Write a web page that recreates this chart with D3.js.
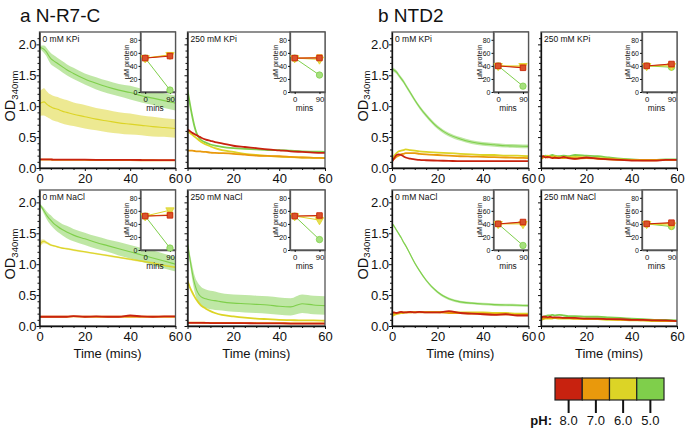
<!DOCTYPE html>
<html>
<head>
<meta charset="utf-8">
<script src="https://d3js.org/d3.v7.min.js"></script>
<style>
  body { margin: 0; background: #fff; }
  svg { font-family: "Liberation Sans", Arial, Helvetica, sans-serif; }
</style>
</head>
<body>
<svg id="chart" width="685" height="430"></svg>
<script>
// time points (mins) shared by every OD trace
var times = [0, 1, 2, 3, 4, 5, 6, 8, 10, 12, 15, 20, 25, 30, 35, 40, 45, 50, 55, 60];
var phLabels = ["8.0", "7.0", "6.0", "5.0"];
var phColors = ["#c8220f", "#e9990c", "#dcd426", "#7fcf4b"];
var proteinTimes = [0, 90];

// a N-R7-C, 0 mM KPi
var aKpi0Red    = [0.14,0.14,0.139,0.139,0.138,0.138,0.137,0.137,0.136,0.136,0.135,0.134,0.133,0.132,0.131,0.13,0.129,0.128,0.128,0.127];
var aKpi0Orange = [0.135,0.135,0.135,0.134,0.134,0.134,0.133,0.133,0.132,0.132,0.131,0.13,0.129,0.128,0.127,0.126,0.125,0.125,0.124,0.124];
var aKpi0Yellow = [1.04,1.06,1.07,1.04,1.01,0.99,0.97,0.95,0.92,0.90,0.87,0.83,0.79,0.76,0.73,0.71,0.69,0.67,0.655,0.64];
var aKpi0YellowSd = [0.2,0.21,0.22,0.21,0.2,0.2,0.2,0.2,0.2,0.2,0.19,0.19,0.18,0.18,0.17,0.17,0.16,0.16,0.15,0.15];
var aKpi0Green  = [1.95,1.94,1.92,1.88,1.82,1.77,1.74,1.69,1.64,1.59,1.53,1.44,1.37,1.31,1.26,1.22,1.17,1.13,1.09,1.05];
var aKpi0GreenSd = [0.02,0.04,0.06,0.07,0.08,0.09,0.09,0.09,0.09,0.09,0.09,0.09,0.1,0.1,0.1,0.11,0.11,0.11,0.12,0.12];
var aKpi0Protein = [[52, 55], [52, 56], [52, 57], [52, 3]];

// a N-R7-C, 250 mM KPi
var aKpi250Red    = [0.62,0.60,0.57,0.55,0.53,0.51,0.49,0.46,0.44,0.42,0.40,0.36,0.34,0.32,0.30,0.285,0.27,0.26,0.25,0.245];
var aKpi250Orange = [0.28,0.28,0.28,0.275,0.27,0.27,0.265,0.26,0.25,0.245,0.24,0.23,0.215,0.2,0.195,0.19,0.18,0.17,0.165,0.16];
var aKpi250Yellow = [0.60,0.57,0.54,0.51,0.48,0.45,0.42,0.38,0.35,0.32,0.29,0.26,0.23,0.21,0.195,0.185,0.175,0.17,0.165,0.16];
var aKpi250Green  = [1.26,1.05,0.85,0.68,0.56,0.49,0.45,0.41,0.38,0.36,0.34,0.32,0.31,0.30,0.29,0.29,0.28,0.27,0.265,0.26];
var aKpi250Protein = [[52, 52], [52, 53], [52, 50], [52, 26]];

// a N-R7-C, 0 mM NaCl
var aNacl0Red    = [0.15,0.15,0.15,0.15,0.15,0.15,0.15,0.15,0.15,0.15,0.16,0.15,0.155,0.15,0.15,0.17,0.155,0.15,0.155,0.155];
var aNacl0Orange = [0.15,0.15,0.15,0.15,0.15,0.15,0.15,0.15,0.15,0.15,0.155,0.15,0.15,0.15,0.15,0.15,0.15,0.15,0.15,0.15];
var aNacl0Yellow = [1.30,1.36,1.37,1.35,1.33,1.31,1.30,1.28,1.26,1.25,1.23,1.20,1.17,1.14,1.11,1.08,1.05,1.02,0.98,0.95];
var aNacl0YellowSd = [0.06,0.04,0.03,0.02,0.02,0.015,0.015,0.015,0.015,0.015,0.015,0.015,0.015,0.015,0.015,0.015,0.015,0.015,0.015,0.015];
var aNacl0Green  = [1.96,1.92,1.86,1.80,1.75,1.71,1.67,1.61,1.56,1.52,1.47,1.41,1.35,1.30,1.25,1.20,1.15,1.10,1.05,1.00];
var aNacl0GreenSd = [0.02,0.03,0.05,0.06,0.07,0.08,0.08,0.09,0.09,0.1,0.1,0.1,0.1,0.1,0.11,0.11,0.11,0.12,0.12,0.12];
var aNacl0Protein = [[52, 53], [52, 54], [52, 61], [52, 3]];

// a N-R7-C, 250 mM NaCl
var aNacl250Red    = [0.05,0.05,0.05,0.05,0.05,0.05,0.05,0.05,0.048,0.048,0.047,0.046,0.045,0.044,0.043,0.042,0.04,0.04,0.039,0.038];
var aNacl250Orange = [0.055,0.055,0.055,0.054,0.054,0.053,0.053,0.052,0.051,0.05,0.05,0.049,0.048,0.047,0.046,0.045,0.044,0.043,0.042,0.041];
var aNacl250Yellow = [0.73,0.63,0.55,0.48,0.42,0.37,0.33,0.28,0.24,0.21,0.18,0.155,0.135,0.12,0.11,0.10,0.095,0.09,0.09,0.085];
var aNacl250Green  = [1.33,1.10,0.88,0.70,0.58,0.51,0.47,0.44,0.42,0.41,0.39,0.37,0.36,0.35,0.34,0.32,0.31,0.36,0.34,0.33];
var aNacl250GreenSd = [0.05,0.08,0.11,0.13,0.15,0.16,0.16,0.15,0.15,0.15,0.14,0.14,0.14,0.14,0.14,0.14,0.14,0.15,0.15,0.15];
var aNacl250Protein = [[52, 53], [52, 52], [52, 46], [52, 16]];

// b NTD2, 0 mM KPi
var bKpi0Red    = [0.10,0.16,0.21,0.22,0.21,0.19,0.17,0.15,0.14,0.13,0.125,0.12,0.115,0.11,0.11,0.11,0.11,0.11,0.11,0.11];
var bKpi0Orange = [0.12,0.15,0.18,0.20,0.22,0.23,0.24,0.24,0.24,0.23,0.22,0.21,0.20,0.19,0.185,0.18,0.175,0.17,0.165,0.16];
var bKpi0Yellow = [0.15,0.20,0.24,0.27,0.28,0.29,0.30,0.29,0.28,0.27,0.26,0.25,0.24,0.23,0.22,0.21,0.21,0.20,0.20,0.19];
var bKpi0Green  = [1.60,1.58,1.55,1.50,1.45,1.40,1.34,1.22,1.10,0.99,0.85,0.66,0.54,0.47,0.42,0.39,0.375,0.36,0.355,0.35];
var bKpi0Protein = [[40, 37], [40, 38], [40, 40], [40, 9]];

// b NTD2, 250 mM KPi
var bKpi250Red    = [0.18,0.19,0.17,0.18,0.17,0.16,0.17,0.16,0.18,0.16,0.15,0.17,0.15,0.14,0.13,0.12,0.12,0.12,0.13,0.13];
var bKpi250Orange = [0.14,0.17,0.18,0.17,0.18,0.17,0.16,0.17,0.16,0.17,0.15,0.16,0.15,0.14,0.13,0.13,0.125,0.125,0.13,0.13];
var bKpi250Yellow = [0.15,0.19,0.18,0.2,0.19,0.18,0.19,0.17,0.18,0.17,0.18,0.17,0.16,0.15,0.14,0.13,0.13,0.13,0.13,0.13];
var bKpi250Green  = [0.16,0.18,0.20,0.19,0.20,0.21,0.20,0.19,0.20,0.19,0.21,0.20,0.19,0.17,0.15,0.14,0.13,0.13,0.14,0.14];
var bKpi250Protein = [[40, 43], [40, 42], [40, 40], [40, 38]];

// b NTD2, 0 mM NaCl
var bNacl0Red    = [0.22,0.22,0.21,0.22,0.23,0.22,0.22,0.23,0.22,0.23,0.22,0.22,0.24,0.21,0.2,0.19,0.18,0.19,0.17,0.17];
var bNacl0Orange = [0.2,0.2,0.21,0.21,0.22,0.22,0.22,0.22,0.22,0.22,0.22,0.22,0.21,0.21,0.2,0.2,0.19,0.19,0.18,0.18];
var bNacl0Yellow = [0.16,0.18,0.19,0.2,0.21,0.21,0.22,0.22,0.23,0.23,0.23,0.23,0.23,0.22,0.22,0.22,0.21,0.21,0.2,0.2];
var bNacl0Green  = [1.66,1.61,1.55,1.49,1.43,1.36,1.30,1.16,1.02,0.90,0.74,0.55,0.44,0.39,0.37,0.355,0.345,0.34,0.335,0.33];
var bNacl0Protein = [[40, 43], [40, 42], [40, 40], [40, 7]];

// b NTD2, 250 mM NaCl
var bNacl250Red    = [0.14,0.15,0.15,0.14,0.15,0.14,0.14,0.14,0.13,0.13,0.13,0.12,0.12,0.11,0.11,0.1,0.1,0.09,0.09,0.08];
var bNacl250Orange = [0.12,0.12,0.13,0.13,0.13,0.13,0.13,0.13,0.13,0.13,0.12,0.12,0.11,0.11,0.1,0.1,0.09,0.09,0.08,0.08];
var bNacl250Yellow = [0.10,0.11,0.12,0.12,0.12,0.12,0.13,0.12,0.12,0.12,0.12,0.11,0.11,0.1,0.1,0.09,0.09,0.08,0.08,0.08];
var bNacl250Green  = [0.14,0.15,0.16,0.17,0.17,0.18,0.17,0.18,0.17,0.16,0.16,0.15,0.15,0.14,0.13,0.12,0.11,0.1,0.1,0.09];
var bNacl250Protein = [[40, 42], [40, 41], [40, 38], [40, 36]];

var svg = d3.select("#chart");
var ink = "#111";

// panel boxes (pixels) - layout only
var panels = [
  { x: 39.5, y: 32, w: 136, label: "0 mM KPi", yLabels: true,
    series: [aKpi0Red, aKpi0Orange, aKpi0Yellow, aKpi0Green],
    sd: [null, null, aKpi0YellowSd, aKpi0GreenSd], protein: aKpi0Protein },
  { x: 187.5, y: 32, w: 137.5, label: "250 mM KPi", yLabels: false,
    series: [aKpi250Red, aKpi250Orange, aKpi250Yellow, aKpi250Green],
    sd: [null, null, null, null], protein: aKpi250Protein },
  { x: 39.5, y: 190, w: 136, label: "0 mM NaCl", yLabels: true, time: true,
    series: [aNacl0Red, aNacl0Orange, aNacl0Yellow, aNacl0Green],
    sd: [null, null, aNacl0YellowSd, aNacl0GreenSd], protein: aNacl0Protein },
  { x: 187.5, y: 190, w: 137.5, label: "250 mM NaCl", yLabels: false, time: true,
    series: [aNacl250Red, aNacl250Orange, aNacl250Yellow, aNacl250Green],
    sd: [null, null, null, aNacl250GreenSd], protein: aNacl250Protein },
  { x: 392, y: 32, w: 136.5, label: "0 mM KPi", yLabels: true,
    series: [bKpi0Red, bKpi0Orange, bKpi0Yellow, bKpi0Green],
    sd: [null, null, null, 0.03], protein: bKpi0Protein },
  { x: 541, y: 32, w: 136, label: "250 mM KPi", yLabels: false,
    series: [bKpi250Red, bKpi250Orange, bKpi250Yellow, bKpi250Green],
    sd: [null, null, null, null], protein: bKpi250Protein },
  { x: 392, y: 190, w: 136.5, label: "0 mM NaCl", yLabels: true, time: true,
    series: [bNacl0Red, bNacl0Orange, bNacl0Yellow, bNacl0Green],
    sd: [null, null, null, 0.02], protein: bNacl0Protein },
  { x: 541, y: 190, w: 136, label: "250 mM NaCl", yLabels: false, time: true,
    series: [bNacl250Red, bNacl250Orange, bNacl250Yellow, bNacl250Green],
    sd: [null, null, null, null], protein: bNacl250Protein }
];
var panelH = 136;

panels.forEach(drawPanel);

function drawPanel(p, k) {
  var g = svg.append("g");
  var x = d3.scaleLinear().domain([0, 60]).range([p.x, p.x + p.w]);
  var y = d3.scaleLinear().domain([0, 2.2]).range([p.y + panelH, p.y]);

  var clipId = "clip" + k;
  svg.append("clipPath").attr("id", clipId)
    .append("rect").attr("x", p.x).attr("y", p.y).attr("width", p.w).attr("height", panelH);

  var plot = g.append("g").attr("clip-path", "url(#" + clipId + ")");

  // draw pH 5 first so pH 8 ends on top
  for (var i = 3; i >= 0; i--) {
    var vals = p.series[i];
    var sd = p.sd[i];
    var col = phColors[i];
    var pts = times.map(function(t, j) { return { t: t, v: vals[j], j: j }; });
    if (sd !== null) {
      var sdAt = function(d) { return typeof sd === "number" ? sd : sd[d.j]; };
      var area = d3.area()
        .x(function(d) { return x(d.t); })
        .y0(function(d) { return y(d.v - sdAt(d)); })
        .y1(function(d) { return y(d.v + sdAt(d)); })
        .curve(d3.curveMonotoneX);
      plot.append("path").datum(pts).attr("d", area)
        .attr("fill", col).attr("fill-opacity", 0.5);
    }
    var line = d3.line()
      .x(function(d) { return x(d.t); })
      .y(function(d) { return y(d.v); })
      .curve(d3.curveMonotoneX);
    plot.append("path").datum(pts).attr("d", line)
      .attr("fill", "none").attr("stroke", col)
      .attr("stroke-width", sd !== null ? 1.1 : 1.8);
  }

  // frame
  g.append("rect").attr("x", p.x).attr("y", p.y).attr("width", p.w).attr("height", panelH)
    .attr("fill", "none").attr("stroke", "#555").attr("stroke-width", 1.3);

  // y axis, major + minor ticks
  var yAxis = g.append("g").attr("transform", "translate(" + p.x + ",0)")
    .call(d3.axisLeft(y).tickValues([0, 0.5, 1, 1.5, 2]).tickSize(3).tickSizeOuter(0).tickPadding(0)
      .tickFormat(p.yLabels ? d3.format(".1f") : ""));
  g.append("g").attr("transform", "translate(" + p.x + ",0)")
    .call(d3.axisLeft(y).tickValues(d3.range(1, 22).filter(function(v) { return v % 5; })
      .map(function(v) { return v / 10; })).tickSize(2).tickFormat(""))
    .select(".domain").remove();

  var xAxis = g.append("g").attr("transform", "translate(0," + (p.y + panelH) + ")")
    .call(d3.axisBottom(x).tickValues([0, 20, 40, 60]).tickSize(3).tickSizeOuter(0).tickPadding(3));
  g.append("g").attr("transform", "translate(0," + (p.y + panelH) + ")")
    .call(d3.axisBottom(x).tickValues([5, 10, 15, 25, 30, 35, 45, 50, 55]).tickSize(2).tickFormat(""))
    .select(".domain").remove();

  g.selectAll(".tick line").attr("stroke", ink).attr("stroke-width", 1);
  [yAxis, xAxis].forEach(function(a) {
    a.select(".domain").attr("stroke", ink).attr("stroke-width", 1.3);
    a.selectAll("text").attr("font-size", 13).attr("fill", ink)
      .attr("font-family", "Liberation Sans, Arial, sans-serif");
  });

  g.append("text").attr("x", p.x + 3).attr("y", p.y + 9.5)
    .attr("font-size", 8.5).attr("fill", ink).text(p.label);

  if (p.time) {
    g.append("text").attr("x", p.x + p.w / 2).attr("y", p.y + panelH + 32)
      .attr("text-anchor", "middle").attr("font-size", 13).attr("fill", ink)
      .text("Time (mins)");
  }

  if (p.yLabels) {
    var od = g.append("text")
      .attr("transform", "translate(" + (p.x - 24.5) + "," + (p.y + panelH / 2 - 4) + ") rotate(-90)")
      .attr("text-anchor", "middle").attr("font-size", 14.5).attr("fill", ink);
    od.append("tspan").text("OD");
    od.append("tspan").attr("font-size", 9.5).attr("dy", 2.5).text("340nm");
  }

  drawInset(g, p);
}

function drawInset(g, p) {
  var iw = 35, ih = 60;
  var ix = p.x + p.w - iw, iy = p.y;
  var x = d3.scaleLinear().domain([-17, 110]).range([ix, ix + iw]);
  var y = d3.scaleLinear().domain([0, 92]).range([iy + ih, iy]);

  g.append("rect").attr("x", ix).attr("y", iy).attr("width", iw).attr("height", ih)
    .attr("fill", "#fff").attr("stroke", "#555").attr("stroke-width", 1.3);

  var ya = g.append("g").attr("transform", "translate(" + ix + ",0)")
    .call(d3.axisLeft(y).tickValues([0, 20, 40, 60, 80]).tickSize(2).tickSizeOuter(0).tickPadding(1));
  var xa = g.append("g").attr("transform", "translate(0," + (iy + ih) + ")")
    .call(d3.axisBottom(x).tickValues(proteinTimes).tickSize(2).tickSizeOuter(0).tickPadding(2.5));
  ya.selectAll("text").attr("font-size", 7).attr("fill", ink);
  xa.selectAll("text").attr("font-size", 7.8).attr("fill", ink);
  [ya, xa].forEach(function(a) {
    a.select(".domain").attr("stroke", "#555").attr("stroke-width", 1.3);
    a.selectAll(".tick line").attr("stroke", ink);
  });

  g.append("text").attr("x", ix + iw / 2 - 3).attr("y", iy + ih + 19)
    .attr("text-anchor", "middle").attr("font-size", 8.3).attr("fill", ink).text("mins");
  g.append("text")
    .attr("transform", "translate(" + (ix - 12) + "," + (iy + ih / 2) + ") rotate(-90)")
    .attr("text-anchor", "middle").attr("font-size", 7.3).attr("fill", ink).text("\u03bcM protein");

  var shapes = [d3.symbolSquare, d3.symbolSquare, d3.symbolTriangle, d3.symbolCircle];
  var fills = ["#d9532c", "#ec8a2a", "#e6df55", "#a6e07e"];
  for (var i = 3; i >= 0; i--) {
    var pts = proteinTimes.map(function(t, j) { return { t: t, v: p.protein[i][j] }; });
    g.append("path").datum(pts)
      .attr("d", d3.line().x(function(d) { return x(d.t); }).y(function(d) { return y(d.v); }))
      .attr("fill", "none").attr("stroke", phColors[i]).attr("stroke-width", 1);
    g.selectAll(null).data(pts).enter().append("path")
      .attr("transform", function(d) {
        return "translate(" + x(d.t) + "," + y(d.v) + ")" + (i === 2 ? " rotate(180)" : "");
      })
      .attr("d", d3.symbol().type(shapes[i]).size(i === 3 ? 32 : 30))
      .attr("fill", fills[i]).attr("stroke", phColors[i]).attr("stroke-width", 0.8);
  }
}

// panel titles
svg.append("text").attr("x", 20).attr("y", 22).attr("font-size", 19).attr("fill", ink).text("a N-R7-C");
svg.append("text").attr("x", 378).attr("y", 22).attr("font-size", 19).attr("fill", ink).text("b NTD2");

// pH legend
var legX = d3.scaleBand().domain(phLabels).range([555, 664]);
var leg = svg.append("g");
leg.selectAll("rect").data(phLabels).enter().append("rect")
  .attr("x", function(d) { return legX(d); }).attr("y", 378)
  .attr("width", legX.bandwidth()).attr("height", 22)
  .attr("fill", function(d, i) { return phColors[i]; })
  .attr("stroke", "#222").attr("stroke-width", 1.2);
leg.selectAll("line").data(phLabels).enter().append("line")
  .attr("x1", function(d) { return legX(d) + legX.bandwidth() / 2; })
  .attr("x2", function(d) { return legX(d) + legX.bandwidth() / 2; })
  .attr("y1", 400).attr("y2", 413).attr("stroke", "#111").attr("stroke-width", 2);
leg.selectAll("text.ph").data(phLabels).enter().append("text")
  .attr("class", "ph")
  .attr("x", function(d) { return legX(d) + legX.bandwidth() / 2; }).attr("y", 425)
  .attr("text-anchor", "middle").attr("font-size", 13).attr("fill", ink)
  .text(function(d) { return d; });
leg.append("text").attr("x", 552).attr("y", 425).attr("text-anchor", "end")
  .attr("font-size", 13).attr("font-weight", "bold").attr("fill", ink).text("pH:");
</script>
</body>
</html>
